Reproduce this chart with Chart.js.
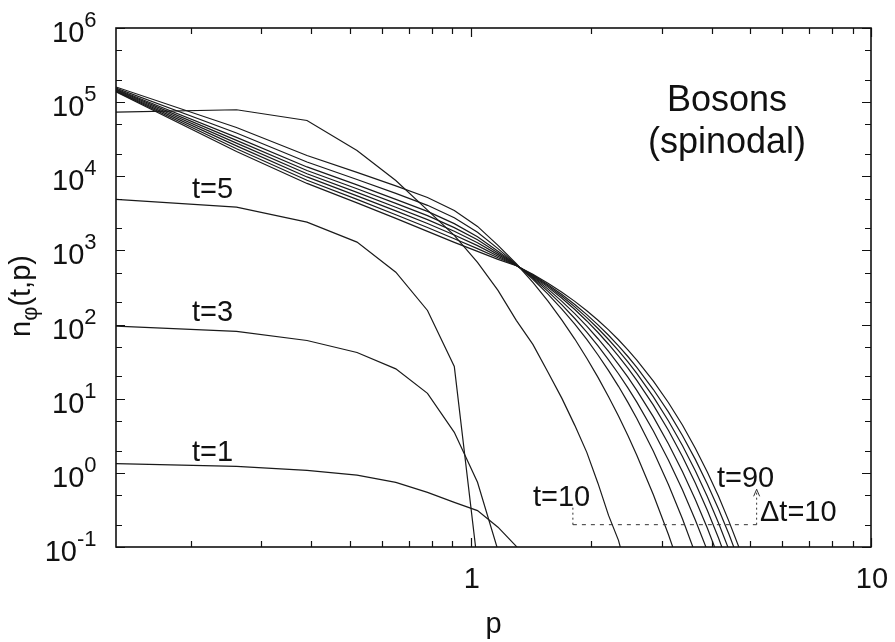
<!DOCTYPE html>
<html>
<head>
<meta charset="utf-8">
<script src="https://cdn.jsdelivr.net/npm/chart.js@4.4.1/dist/chart.umd.min.js"></script>
<style>
  html,body{margin:0;padding:0;background:#fff;}
  #wrap{width:895px;height:642px;}
</style>
</head>
<body>
<div id="wrap"><canvas id="chartN" width="895" height="642"></canvas></div>
<script>
// momentum grid p
const P=[0.13,0.26,0.39,0.52,0.65,0.78,0.91,1.04,1.17,1.30,1.43,1.56,1.69,1.82,1.95,2.08,2.21,2.34,2.47,2.60,2.86,3.12,3.38,3.64,3.90,4.16,4.42,4.68,4.94,5.20];

// n_phi(t,p) per time
const nT1=[1.33,1.22,1.08,0.93,0.745,0.546,0.40,0.31,0.185,0.102,0.049];
const nT3=[95.5,81,61,42,25.3,11.8,3.52,0.745,0.09];
const nT5=[4875,3840,2410,1295,509,155,27.3,0.06];
const nT10=[73300,78900,56600,22300,8790,3500,1595,690,289,114,54,22.7,10.1,4.37,1.89,0.72,0.267,0.123,0.0415];
const nT20=[160200,45560,19100,11270,7412,5186,3464,2108,1168,661,370.7,206.5,114.8,63.8,35.2,19.4,10.6,5.83,3.18,1.73,0.506,0.146,0.042];
const nT30=[154800,38300,15610,9040,5872,4058,2753,1761,1058,645,409,258,162,101.4,63.0,38.9,23.9,14.7,8.93,5.41,1.95,0.692,0.240,0.0815];
const nT40=[150600,33500,13370,7650,4890,3358,2300,1531,976,640,424,280,184.5,120.8,79.1,51.5,33.5,21.7,14.0,8.99,3.67,1.48,0.590,0.231,0.0896];
const nT50=[147800,30520,11990,6795,4318,2948,2031,1391,926,634,437.5,300.6,205.6,140.3,95.2,64.4,43.4,29.1,19.5,12.97,5.69,2.45,1.04,0.436,0.180,0.0729];
const nT60=[145000,27990,10820,6075,3824,2603,1810,1267,878,630,450,320,226.5,159.6,111.9,78.1,54.3,37.6,25.8,17.7,8.20,3.72,1.66,0.728,0.313,0.132,0.0545];
const nT70=[142400,25730,9800,5450,3410,2307,1614,1161,836,627,458,332.7,240.6,173.4,124.2,88.5,62.9,44.5,31.3,21.9,10.57,5.01,2.34,1.07,0.479,0.211,0.091,0.0386];
const nT80=[140200,23520,8850,4875,3030,2037,1434,1058,795,625,465,344.4,254,186.2,136.2,99.1,71.8,51.7,37.1,26.5,13.3,6.58,3.19,1.52,0.710,0.326,0.147,0.065];
const nT90=[137600,21630,8010,4372,2702,1805,1283,970,757,621,475,361,273,205.6,153.8,114.3,84.7,62.4,45.6,33.2,17.3,8.83,4.42,2.15,1.03,0.482,0.220,0.0987,0.0432];

const times=['t=1','t=3','t=5','t=10','t=20','t=30','t=40','t=50','t=60','t=70','t=80','t=90'];
const series=[nT1,nT3,nT5,nT10,nT20,nT30,nT40,nT50,nT60,nT70,nT80,nT90];

// tick labels
const yExponents=[-1,0,1,2,3,4,5,6];
const xTickLabels=[1,10];

// bracket "t=10 .. t=90, dt=10" (data coords)
const bracketP=[1.8,5.18];
const bracketN=[0.2,0.35,0.6];

const FONT='"Liberation Sans", Arial, Helvetica, sans-serif';
const INK='#111';

const decor={
  id:'decor',
  afterDraw(chart){
    const {ctx,chartArea:{left,top,right,bottom},scales:{x,y}}=chart;
    ctx.save();
    ctx.strokeStyle=INK; ctx.fillStyle=INK;

    // ticks ke dalam
    ctx.lineWidth=1.2;
    ctx.beginPath();
    [0.1,1,10].forEach(d=>{
      for(let m=1;m<=9;m++){
        const v=m*d;
        if(v<x.min||v>x.max) continue;
        const px=Math.round(x.getPixelForValue(v))+0.5;
        const len=m===1?9:6;
        ctx.moveTo(px,bottom); ctx.lineTo(px,bottom-len);
        ctx.moveTo(px,top); ctx.lineTo(px,top+len);
      }
    });
    yExponents.forEach(e=>{
      [1,2,5].forEach(m=>{
        const v=m*Math.pow(10,e);
        if(v>y.max*1.0001) return;
        const py=Math.round(y.getPixelForValue(v))+0.5;
        const len=m===1?9:6;
        ctx.moveTo(left,py); ctx.lineTo(left+len,py);
        ctx.moveTo(right,py); ctx.lineTo(right-len,py);
      });
    });
    ctx.stroke();

    // frame
    ctx.lineWidth=1.6;
    ctx.strokeRect(left,top,right-left,bottom-top);

    // y tick labels 10^e
    ctx.textBaseline='alphabetic';
    yExponents.forEach(e=>{
      const py=y.getPixelForValue(Math.pow(10,e));
      const ex=e<0?'-'+Math.abs(e):String(e);
      ctx.font='29px '+FONT; const w10=ctx.measureText('10').width;
      ctx.font='22px '+FONT; const we=ctx.measureText(ex).width;
      const x0=96.5-we-w10;
      ctx.textAlign='left';
      ctx.font='29px '+FONT; ctx.fillText('10',x0,py+14);
      ctx.font='22px '+FONT; ctx.fillText(ex,x0+w10,py-1);
    });

    // x tick labels
    ctx.font='29px '+FONT; ctx.textAlign='center';
    xTickLabels.forEach(v=>{
      ctx.fillText(String(v),x.getPixelForValue(v)+1,588);
    });

    // axis titles
    ctx.fillText('p',(left+right)/2,633);
    ctx.save();
    ctx.translate(30,337); ctx.rotate(-Math.PI/2);
    ctx.textAlign='left';
    ctx.font='29px '+FONT; ctx.fillText('n',0,0);
    let cx=ctx.measureText('n').width;
    ctx.font='22px '+FONT; ctx.fillText('\u03c6',cx,7);
    cx+=ctx.measureText('\u03c6').width;
    ctx.font='29px '+FONT; ctx.fillText('(t,p)',cx,0);
    ctx.restore();

    // labels in plot
    ctx.textAlign='left'; ctx.font='29px '+FONT;
    ctx.fillText('t=5',192,198);
    ctx.fillText('t=3',192,321);
    ctx.fillText('t=1',192,461);
    ctx.fillText('t=10',533,506);
    ctx.fillText('t=90',717,487);
    ctx.fillText('\u0394t=10',760,521);
    ctx.textAlign='center'; ctx.font='36px '+FONT;
    ctx.fillText('Bosons',727,111);
    ctx.fillText('(spinodal)',727,153);

    // bracket
    const bx0=x.getPixelForValue(bracketP[0]), bx1=x.getPixelForValue(bracketP[1]);
    const by=y.getPixelForValue(bracketN[0]);
    const byL=y.getPixelForValue(bracketN[1]);
    const byR=y.getPixelForValue(bracketN[2]);
    ctx.strokeStyle='#333'; ctx.lineWidth=1;
    ctx.setLineDash([4,5]);
    ctx.beginPath();
    ctx.moveTo(bx0,by); ctx.lineTo(bx1,by);
    ctx.stroke();
    ctx.setLineDash([2,3]);
    ctx.beginPath();
    ctx.moveTo(bx0,by); ctx.lineTo(bx0,byL);
    ctx.moveTo(bx1,by); ctx.lineTo(bx1,byR);
    ctx.stroke();
    ctx.setLineDash([]);
    ctx.beginPath();
    ctx.moveTo(bx1-3,byR+7); ctx.lineTo(bx1,byR); ctx.lineTo(bx1+3,byR+7);
    ctx.stroke();
    ctx.restore();
  }
};

new Chart(document.getElementById('chartN'),{
  type:'line',
  data:{
    datasets:series.map((s,i)=>({
      label:times[i],
      data:s.map((v,j)=>({x:P[j],y:v})),
      borderColor:'#1a1a1a',
      borderWidth:1.2,
      pointRadius:0,
      tension:0,
      fill:false
    }))
  },
  options:{
    responsive:false,
    animation:false,
    devicePixelRatio:1,
    layout:{padding:{left:116,top:28,right:24,bottom:95}},
    plugins:{legend:{display:false},tooltip:{enabled:false}},
    scales:{
      x:{type:'logarithmic',min:0.13,max:10,display:false},
      y:{type:'logarithmic',min:0.1,max:1e6,display:false}
    }
  },
  plugins:[decor]
});
</script>
</body>
</html>
